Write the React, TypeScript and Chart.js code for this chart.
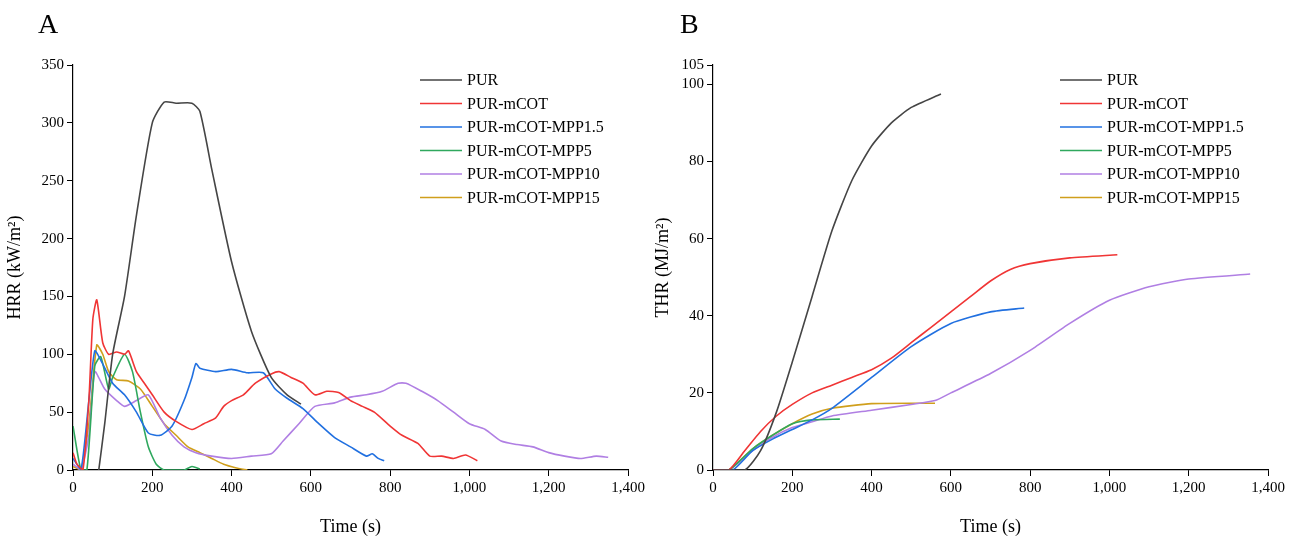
import React, { useEffect, useRef } from "react";
import { Chart, registerables } from "chart.js";
Chart.register(...registerables);

const seriesNames = ["PUR", "PUR-mCOT", "PUR-mCOT-MPP1.5", "PUR-mCOT-MPP5", "PUR-mCOT-MPP10", "PUR-mCOT-MPP15"];
const seriesColors = ["#454545", "#f03535", "#2170e0", "#2fa85e", "#b07fe3", "#d09f1c"];

// HRR (panel A): [time, value]
const hrrPUR = [[65,0],[80,40],[100,100],[130,150],[160,220],[200,300],[230,318],[260,317],[300,317],[320,310],[350,260],[400,180],[450,120],[500,80],[540,65],[575,57]];
const hrrMCOT = [[0,15],[10,5],[25,0],[40,60],[50,130],[60,147],[75,110],[90,100],[110,102],[130,100],[140,103],[160,85],[180,75],[200,65],[230,50],[260,42],[300,35],[330,40],[360,45],[380,55],[400,60],[430,65],[460,75],[500,83],[520,85],[550,80],[580,75],[610,65],[640,68],[670,67],[700,60],[730,55],[760,50],[800,38],[830,30],[870,23],[900,12],[930,12],[960,10],[990,13],[1020,8]];
const hrrMPP15a = [[0,10],[20,0],[40,60],[55,103],[70,95],[100,75],[130,65],[160,50],[190,32],[220,30],[250,38],[280,60],[300,80],[310,92],[320,88],[360,85],[400,87],[440,84],[480,84],[510,70],[540,62],[580,53],[620,40],[660,28],[700,20],[740,12],[755,14],[770,10],[785,8]];
const hrrMPP5 = [[0,38],[20,0],[35,0],[55,90],[70,98],[90,70],[100,80],[130,100],[150,85],[170,50],[190,20],[210,5],[230,0],[280,0],[300,3],[320,1]];
const hrrMPP10 = [[0,5],[20,0],[40,30],[55,85],[80,70],[110,60],[130,55],[160,60],[190,65],[220,45],[250,30],[280,20],[310,15],[350,12],[400,10],[450,12],[500,14],[530,25],[570,40],[610,55],[660,58],[700,63],[740,65],[780,68],[820,75],[840,75],[880,68],[920,60],[960,50],[1000,40],[1040,35],[1080,25],[1120,22],[1160,20],[1200,15],[1240,12],[1280,10],[1320,12],[1350,11]];
const hrrMPP15 = [[0,3],[20,0],[40,40],[60,108],[75,100],[90,85],[110,78],[140,77],[170,70],[200,55],[230,40],[260,30],[290,20],[320,15],[350,10],[380,5],[410,2],[440,0]];

// THR (panel B)
const thrPUR = [[0,0],[80,0],[120,5],[160,15],[200,28],[250,45],[300,62],[350,75],[400,84],[450,90],[500,94],[575,97.5]];
const thrMCOT = [[0,0],[40,0],[80,5],[120,10],[160,14],[200,17],[250,20],[300,22],[350,24],[400,26],[450,29],[500,33],[550,37],[600,41],[650,45],[700,49],[750,52],[800,53.5],[900,55],[1020,55.8]];
const thrMPP15a = [[0,0],[50,0],[100,5],[150,8],[200,10.5],[250,13],[300,16],[400,24],[500,32],[600,38],[700,41],[785,42]];
const thrMPP5 = [[0,0],[40,0],[100,5.5],[150,9],[200,12],[250,13],[320,13.2]];
const thrMPP10 = [[0,0],[40,0],[100,5],[150,8.5],[200,11],[250,12.5],[300,14],[400,15.5],[500,17],[560,18],[600,20],[700,25],[800,31],[900,38],[1000,44],[1100,47.5],[1200,49.5],[1355,50.8]];
const thrMPP15 = [[0,0],[40,0],[100,5.5],[150,9],[200,12],[250,14.5],[300,16],[400,17.2],[560,17.3]];

const xTicks = [0, 200, 400, 600, 800, 1000, 1200, 1400];

const FONT = "'Liberation Serif', 'Times New Roman', serif";

const legendPlugin = {
  id: "inLegend",
  afterDraw(chart: any) {
    const o = chart.options.plugins.inLegend;
    const ctx = chart.ctx;
    const a = chart.chartArea;
    ctx.save();
    ctx.font = `16px ${FONT}`;
    ctx.textBaseline = "middle";
    chart.data.datasets.forEach((d: any, i: number) => {
      const x = a.left + o.x;
      const y = a.top + o.y + i * 23.5;
      ctx.strokeStyle = d.borderColor;
      ctx.lineWidth = 1.6;
      ctx.beginPath();
      ctx.moveTo(x, y);
      ctx.lineTo(x + 42, y);
      ctx.stroke();
      ctx.fillStyle = "#000";
      ctx.fillText(d.label, x + 47, y + 1);
    });
    ctx.restore();
  },
};

function ChartPanel({ data, yMax, yStep, yTitle, pad, yWidth, legendX }: any) {
  const ref = useRef<HTMLCanvasElement>(null);
  useEffect(() => {
    const ch = new Chart(ref.current!, {
      type: "line",
      data: {
        datasets: data.map((s: number[][], i: number) => ({
          label: seriesNames[i],
          data: s.map(([x, y]) => ({ x, y })),
          borderColor: seriesColors[i],
          borderWidth: 1.6,
          pointRadius: 0,
          tension: 0.2,
          fill: false,
        })),
      },
      options: {
        animation: false,
        responsive: false,
        layout: { padding: { left: 0, right: pad.right, top: pad.top, bottom: 0 } },
        plugins: { legend: { display: false }, tooltip: { enabled: false }, inLegend: { x: legendX, y: 15 } } as any,
        scales: {
          x: {
            type: "linear",
            min: 0,
            max: 1400,
            afterBuildTicks: (s: any) => { s.ticks = xTicks.map((v) => ({ value: v })); },
            afterFit: (s: any) => { s.height = 72; },
            grid: { drawOnChartArea: false, tickLength: 6, color: "#000" },
            border: { color: "#000", width: 1.2 },
            ticks: { color: "#000", font: { family: FONT, size: 15 }, maxRotation: 0 },
            title: { display: true, text: "Time (s)", color: "#000", font: { family: FONT, size: 18 }, padding: { top: 6 } },
          },
          y: {
            min: 0,
            max: yMax,
            ticks: { stepSize: yStep, color: "#000", font: { family: FONT, size: 15 } },
            afterFit: (s: any) => { s.width = yWidth; },
            grid: { drawOnChartArea: false, tickLength: 6, color: "#000" },
            border: { color: "#000", width: 1.2 },
            title: { display: true, text: yTitle, color: "#000", font: { family: FONT, size: 18 }, padding: { bottom: 2 } },
          },
        },
      },
      plugins: [legendPlugin],
    });
    return () => ch.destroy();
  }, []);
  return <canvas ref={ref} width={648} height={542} style={{ display: "block", width: 648, height: 542 }} />;
}

export default function App() {
  return (
    <div style={{ position: "fixed", left: 0, top: 0, width: 1296, height: 542, background: "#fff" }}>
      <div style={{ position: "absolute", left: 0, top: 0 }}>
        <ChartPanel data={[hrrPUR, hrrMCOT, hrrMPP15a, hrrMPP5, hrrMPP10, hrrMPP15]} yMax={350} yStep={50}
          yTitle="HRR (kW/m²)" pad={{ right: 20, top: 65 }} yWidth={73} legendX={347} />
      </div>
      <div style={{ position: "absolute", left: 648, top: 0 }}>
        <ChartPanel data={[thrPUR, thrMCOT, thrMPP15a, thrMPP5, thrMPP10, thrMPP15]} yMax={105} yStep={20}
          yTitle="THR (MJ/m²)" pad={{ right: 28, top: 65 }} yWidth={65} legendX={347} />
      </div>
      <div style={{ position: "absolute", left: 38, top: 8, fontFamily: FONT, fontSize: 28 }}>A</div>
      <div style={{ position: "absolute", left: 680, top: 8, fontFamily: FONT, fontSize: 28 }}>B</div>
    </div>
  );
}
